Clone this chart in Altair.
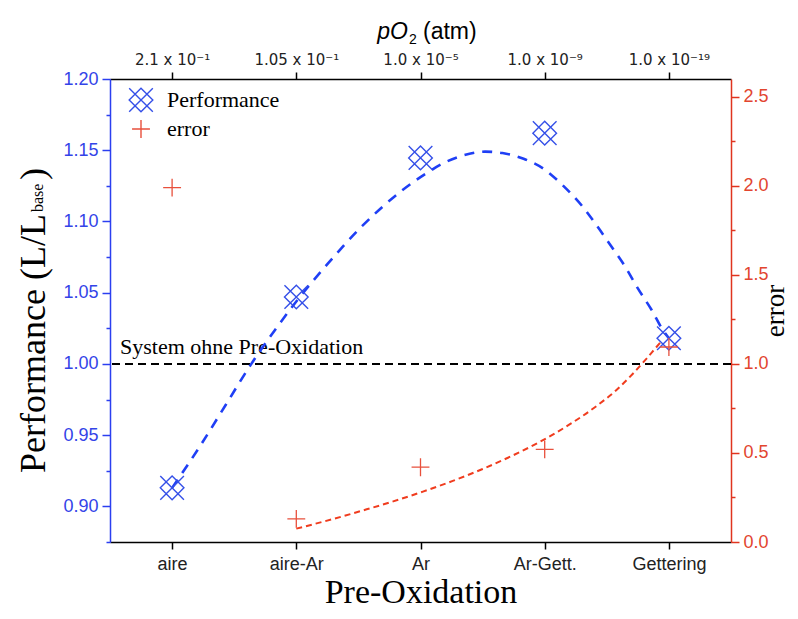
import json
import altair as alt
import pandas as pd

# ---------------- data ----------------
categories = ["aire", "aire-Ar", "Ar", "Ar-Gett.", "Gettering"]
po2_labels = ["2.1 x 10⁻¹", "1.05 x 10⁻¹", "1.0 x 10⁻⁵", "1.0 x 10⁻⁹", "1.0 x 10⁻¹⁹"]
performance = [0.913, 1.047, 1.1446, 1.162, 1.018]
error = [1.99, 0.13, 0.42, 0.52, 1.095]

# dashed trend curves
perf_fit_x = [0.0, 0.23, 0.43, 0.63, 0.83, 1.01, 1.25, 1.51, 1.84, 2.05, 2.21, 2.37,
              2.52, 2.66, 2.83, 2.99, 3.15, 3.30, 3.42, 3.54, 3.65, 3.75, 3.86, 3.95, 4.0]
perf_fit_y = [0.913, 0.943, 0.971, 0.999, 1.024, 1.045, 1.070, 1.095, 1.121, 1.134, 1.142, 1.147,
              1.149, 1.148, 1.144, 1.137, 1.125, 1.111, 1.097, 1.082, 1.068, 1.053, 1.038, 1.024, 1.018]
err_fit_x = [1.0, 1.30, 1.54, 1.78, 2.02, 2.26, 2.50, 2.74, 2.96, 3.20, 3.42, 3.58, 3.71, 3.82, 3.90, 3.95]
err_fit_y = [0.075, 0.130, 0.178, 0.228, 0.283, 0.343, 0.410, 0.485, 0.562, 0.660, 0.765, 0.855,
             0.945, 1.030, 1.095, 1.135]

reference_level = 1.0
series_names = ["Performance", "error"]

# ---------------- tables ----------------
idx = list(range(len(categories)))
perf_df = pd.DataFrame({"idx": idx, "value": performance, "series": series_names[0]})
err_df = pd.DataFrame({"idx": idx, "value": error, "series": series_names[1]})
perf_fit_df = pd.DataFrame({"idx": perf_fit_x, "value": perf_fit_y})
err_fit_df = pd.DataFrame({"idx": err_fit_x, "value": err_fit_y})
ref_df = pd.DataFrame({"value": [reference_level], "label": ["System ohne Pre-Oxidation"]})
dummy = pd.DataFrame({"t": [0]})

W, H = 621, 463
BLUE = "#2b3ff0"
BLUE_MK = "#3550e8"
RED = "#e0341f"
RED_MK = "#e8503c"
SANS = "Liberation Sans"
SERIF = "Liberation Serif"

perf_shape = "M-1,-1L1,1M-1,1L1,-1M-1,0L0,-1L1,0L0,1Z"
plus_shape = "M-1,0L1,0M0,-1L0,1"

xscale = alt.Scale(domain=[-0.5, 4.5], nice=False, zero=False)

x_bottom = alt.X(
    "idx:Q", scale=xscale,
    axis=alt.Axis(
        orient="bottom", values=idx,
        labelExpr=json.dumps(categories) + "[round(datum.value)]",
        title="Pre-Oxidation", titleFont=SERIF, titleFontSize=34, titleFontWeight="normal",
        titleColor="black", titlePadding=2,
        labelFont=SANS, labelFontSize=18, labelColor="#222222", labelPadding=6,
        domainColor="black", domainWidth=1.5, tickColor="black", tickWidth=1.5, tickSize=7,
        grid=False,
    ),
)
x_top = alt.X(
    "idx:Q", scale=xscale,
    axis=alt.Axis(
        orient="top", values=idx,
        labelExpr=json.dumps(po2_labels) + "[round(datum.value)]",
        title=None,
        labelFont="DejaVu Sans", labelFontSize=15, labelColor="#222222", labelPadding=5,
        domainColor="black", domainWidth=1.5, tickColor="black", tickWidth=1.5, tickSize=7,
        grid=False,
    ),
)

left_vals = [round(0.875 + 0.025 * i, 3) for i in range(14)]
major_left = "abs(datum.value*20 - round(datum.value*20)) < 0.01"
y_left = alt.Y(
    "value:Q", scale=alt.Scale(domain=[0.875, 1.2], nice=False, zero=False),
    axis=alt.Axis(
        orient="left", values=left_vals, title=None,
        labelExpr=major_left + " ? format(datum.value, '.2f') : ''",
        labelFont=SANS, labelFontSize=18, labelColor="#3344e8", labelPadding=4,
        domainColor=BLUE, domainWidth=1.5, tickColor=BLUE, tickWidth=1.5,
        tickSize={"condition": {"test": major_left, "value": 8}, "value": 4},
        grid=False,
    ),
)
right_vals = [round(0.25 * i, 2) for i in range(11)]
major_right = "abs(datum.value*2 - round(datum.value*2)) < 0.01"
y_right = alt.Y(
    "value:Q", scale=alt.Scale(domain=[0, 2.6], nice=False, zero=False),
    axis=alt.Axis(
        orient="right", values=right_vals,
        labelExpr=major_right + " ? format(datum.value, '.1f') : ''",
        title="error", titleFont=SERIF, titleFontSize=27, titleFontWeight="normal",
        titleColor="black", titleAngle=270, titleX=52, titleY=H / 2,
        titleAlign="center", titleBaseline="alphabetic",
        labelFont=SANS, labelFontSize=18, labelColor="#e2452f", labelPadding=4,
        domainColor=RED, domainWidth=1.5, tickColor=RED, tickWidth=1.5,
        tickSize={"condition": {"test": major_right, "value": 8}, "value": 4},
        grid=False,
    ),
)

legend = alt.Legend(
    orient="none", legendX=18, legendY=8, title=None,
    labelFont=SERIF, labelFontSize=22, labelColor="black", labelOffset=13,
    rowPadding=2, padding=0, symbolStrokeWidth=1.4,
)
color = alt.Color("series:N", scale=alt.Scale(domain=series_names, range=[BLUE_MK, RED_MK]), legend=legend)
shape = alt.Shape("series:N", scale=alt.Scale(domain=series_names, range=[perf_shape, plus_shape]), legend=legend)
size = alt.Size("series:N", scale=alt.Scale(domain=series_names, range=[560, 320]), legend=legend)

# ---------------- performance group (left axis, bottom axis) ----------------
ref_rule = alt.Chart(ref_df).mark_rule(color="black", strokeWidth=2, strokeDash=[8, 5]).encode(y=y_left)
ref_text = alt.Chart(ref_df).mark_text(
    font=SERIF, fontSize=22, align="left", baseline="alphabetic", dy=-10, color="black"
).encode(x=alt.value(10), y=y_left, text="label:N")
blue_fit = alt.Chart(perf_fit_df).mark_line(
    color="#1f3ff5", strokeWidth=2.6, strokeDash=[10, 8], interpolate="monotone"
).encode(x=x_bottom, y=y_left)
perf_pts = alt.Chart(perf_df).mark_point(filled=False, strokeWidth=1.4, opacity=1).encode(
    x=x_bottom, y=y_left, color=color, shape=shape, size=size
)

t_main = alt.Chart(dummy).mark_text(
    text="Performance (L/L", font=SERIF, fontSize=36, angle=270, align="left",
    baseline="alphabetic", color="black"
).encode(x=alt.value(-65), y=alt.value(394))
t_sub = alt.Chart(dummy).mark_text(
    text="base", font=SERIF, fontSize=16, angle=270, align="left",
    baseline="alphabetic", color="black"
).encode(x=alt.value(-67), y=alt.value(133))
t_par = alt.Chart(dummy).mark_text(
    text=")", font=SERIF, fontSize=36, angle=270, align="left",
    baseline="alphabetic", color="black"
).encode(x=alt.value(-65), y=alt.value(101))
t_po = alt.Chart(dummy).mark_text(
    text="pO", font=SANS, fontSize=23, fontStyle="italic", align="right",
    baseline="alphabetic", color="black"
).encode(x=alt.value(298), y=alt.value(-40))
t_2 = alt.Chart(dummy).mark_text(
    text="2", font=SANS, fontSize=14, align="left", baseline="alphabetic", color="black"
).encode(x=alt.value(299), y=alt.value(-35))
t_atm = alt.Chart(dummy).mark_text(
    text="(atm)", font=SANS, fontSize=23, align="left", baseline="alphabetic", color="black"
).encode(x=alt.value(313), y=alt.value(-40))

perf_group = alt.layer(ref_rule, ref_text, blue_fit, perf_pts, t_main, t_sub, t_par, t_po, t_2, t_atm)

# ---------------- error group (right axis, top axis) ----------------
red_fit = alt.Chart(err_fit_df).mark_line(
    color="#f03c1e", strokeWidth=2, strokeDash=[6, 4], interpolate="monotone"
).encode(x=x_top, y=y_right)
err_pts = alt.Chart(err_df).mark_point(filled=False, strokeWidth=1.3, opacity=1).encode(
    x=x_top, y=y_right, color=color, shape=shape, size=size
)
err_group = alt.layer(red_fit, err_pts)

chart = (
    alt.layer(perf_group, err_group)
    .resolve_scale(x="independent", y="independent", color="shared", shape="shared", size="shared")
    .properties(
        width=W, height=H,
        autosize=alt.AutoSizeParams(type="none"),
        padding={"left": 102, "top": 71, "right": 59, "bottom": 69},
        background="white",
    )
    .configure_view(stroke=None)
)

chart.save("out.html", embed_options={"renderer": "svg", "actions": False})
